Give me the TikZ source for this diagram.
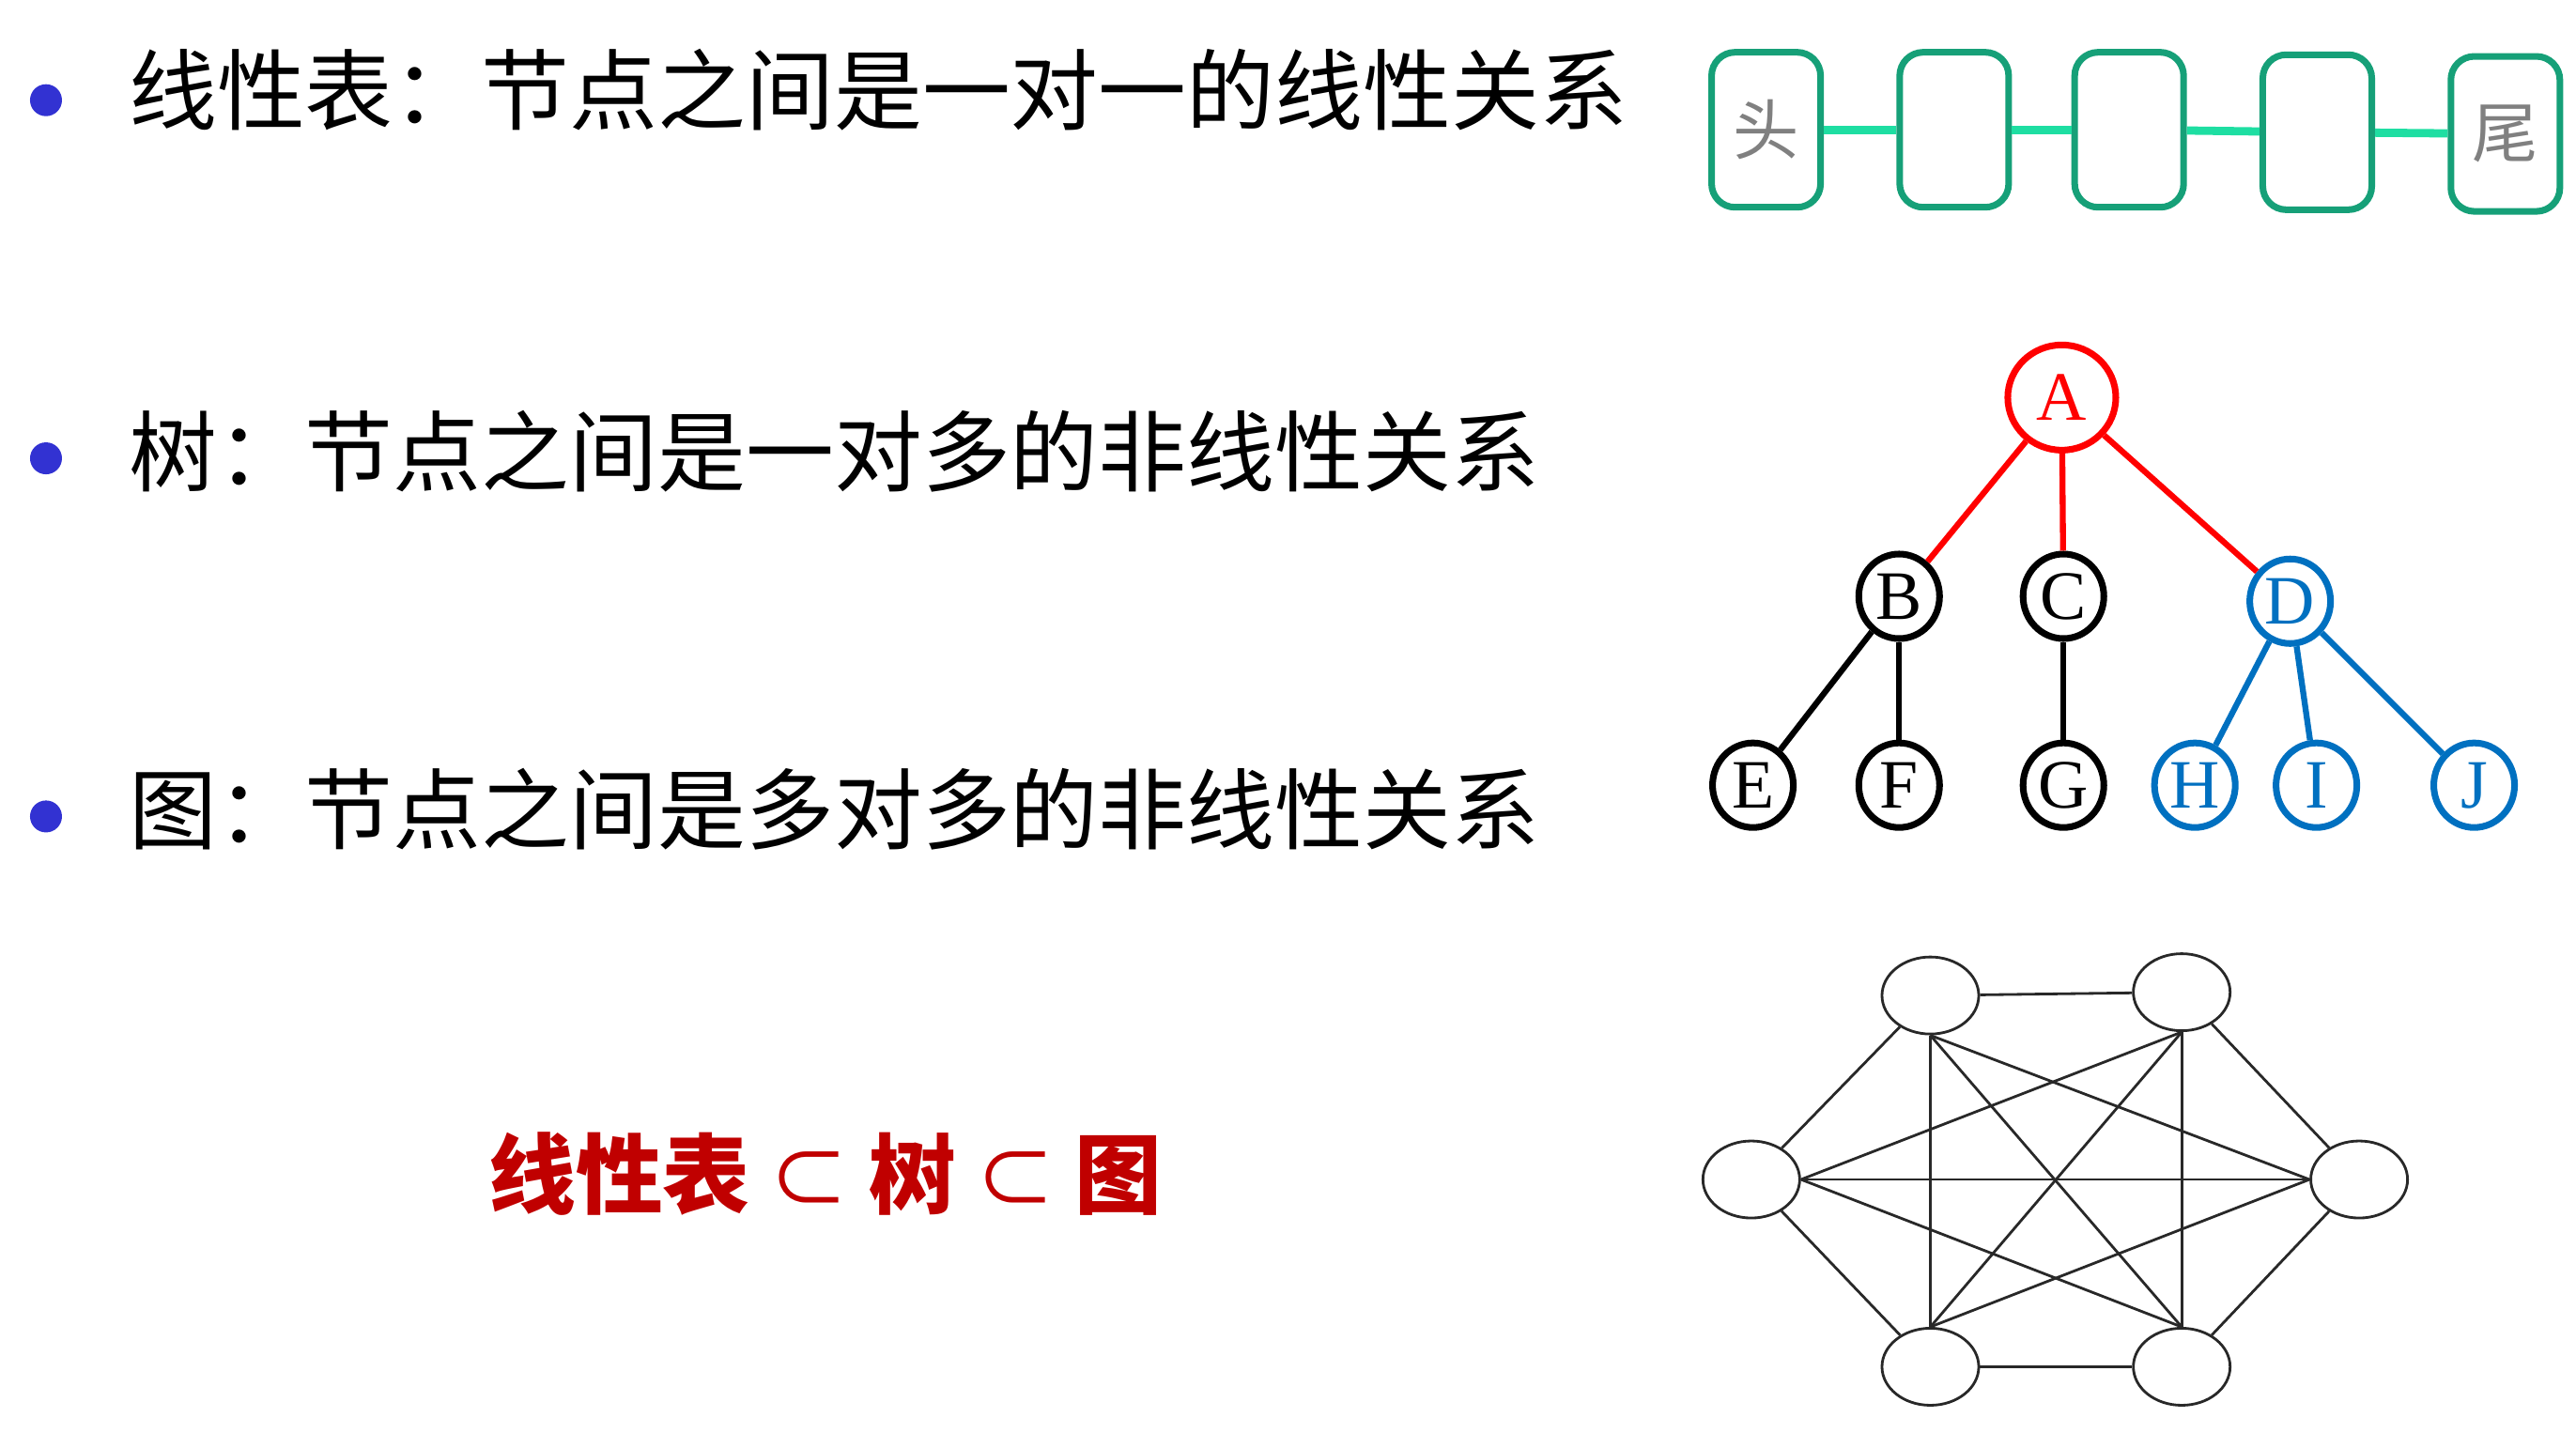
\documentclass[tikz,border=0pt]{standalone}
\usepackage{fontspec}
\setmainfont{Noto Sans CJK SC}
\newfontfamily\serifl{Liberation Serif}
\usetikzlibrary{shapes.geometric}
\definecolor{bulletblue}{RGB}{50,50,210}
\definecolor{boxgreen}{RGB}{22,160,120}
\definecolor{conngreen}{RGB}{30,222,162}
\definecolor{treered}{RGB}{255,0,0}
\definecolor{treeblue}{RGB}{0,112,192}
\definecolor{darkred}{RGB}{192,0,0}
\definecolor{graygraph}{RGB}{40,40,40}
\begin{document}
\begin{tikzpicture}[x=0.01749cm, y=-0.01749cm,
  bulletdot/.style={circle, fill=bulletblue, inner sep=0, minimum size=0.34cm},
  itemtext/.style={anchor=base west, inner sep=0, font=\fontsize{26.7pt}{30pt}\selectfont},
  lbox/.style={draw=boxgreen, line width=2pt, rounded corners=0.25cm, minimum width=1.16cm, minimum height=1.65cm, inner sep=0, text=gray, font=\fontsize{20pt}{22pt}\selectfont},
  lconn/.style={draw=conngreen, line width=2.5pt},
  tnode/.style={ellipse, draw, line width=2pt, inner sep=0, minimum width=0.86cm, minimum height=0.9cm, font=\serifl\fontsize{21pt}{22pt}\selectfont},
  tedge/.style={line width=1.8pt},
  gnode/.style={ellipse, draw=graygraph, line width=0.8pt, inner sep=0, minimum width=1.03cm, minimum height=0.82cm},
  gedge/.style={draw=graygraph, line width=0.8pt}
]
\useasboundingbox (0,0) rectangle (1568,872);

% bullets and text
\node[bulletdot] (b1) at (28,61) {};
\node[bulletdot] (b2) at (28,279) {};
\node[bulletdot] (b3) at (28,497) {};
\node[itemtext] (t1) at (78,75) {线性表：节点之间是一对一的线性关系};
\node[itemtext] (t2) at (78,295) {树：节点之间是一对多的非线性关系};
\node[itemtext] (t3) at (78,513) {图：节点之间是多对多的非线性关系};

\node[anchor=base west, inner sep=0, text=darkred, font=\fontsize{26.4pt}{30pt}\selectfont\bfseries] (rel) at (297,735) {线性表\hspace{6pt}{\mdseries\fontsize{24pt}{28pt}\selectfont ⊂}\hspace{6pt}树\hspace{6pt}{\mdseries\fontsize{24pt}{28pt}\selectfont ⊂}\hspace{6pt}图};

% linked list
\node[lbox] (l1) at (1075,79) {头};
\node[lbox] (l2) at (1189.5,79) {};
\node[lbox] (l3) at (1296,79) {};
\node[lbox] (l4) at (1410.5,80.5) {};
\node[lbox] (l5) at (1525,81.5) {尾};
\draw[lconn] (l1) -- (l2);
\draw[lconn] (l2) -- (l3);
\draw[lconn] (l3) -- (l4);
\draw[lconn] (l4) -- (l5);

% tree
\node[tnode, draw=treered, text=treered, minimum width=1.15cm, minimum height=1.12cm] (A) at (1255,242) {A};
\node[tnode] (B) at (1156,363) {B};
\node[tnode] (C) at (1256,363) {C};
\node[tnode, draw=treeblue, text=treeblue] (D) at (1394,366) {D};
\node[tnode] (E) at (1067,478) {E};
\node[tnode] (F) at (1156,478) {F};
\node[tnode] (G) at (1256,478) {G};
\node[tnode, draw=treeblue, text=treeblue] (H) at (1336,478) {H};
\node[tnode, draw=treeblue, text=treeblue] (I) at (1410,478) {I};
\node[tnode, draw=treeblue, text=treeblue] (J) at (1506,478) {J};
\draw[tedge, treered] (A) -- (B);
\draw[tedge, treered] (A) -- (C);
\draw[tedge, treered] (A) -- (D);
\draw[tedge] (B) -- (E);
\draw[tedge] (B) -- (F);
\draw[tedge] (C) -- (G);
\draw[tedge, treeblue] (D) -- (H);
\draw[tedge, treeblue] (D) -- (I);
\draw[tedge, treeblue] (D) -- (J);

% graph
\node[gnode] (gTL) at (1175,606) {};
\node[gnode] (gTR) at (1328,604) {};
\node[gnode] (gL) at (1066,718) {};
\node[gnode] (gR) at (1436,718) {};
\node[gnode] (gBL) at (1175,832) {};
\node[gnode] (gBR) at (1328,832) {};
\draw[gedge] (gTL) -- (gTR);
\draw[gedge] (gTL) -- (gL);
\draw[gedge] (gTR) -- (gR);
\draw[gedge] (gL) -- (gBL);
\draw[gedge] (gR) -- (gBR);
\draw[gedge] (gBL) -- (gBR);
\draw[gedge] (gL.east) -- (gR.west);
\draw[gedge] (gTL.south) -- (gBL.north);
\draw[gedge] (gTR.south) -- (gBR.north);
\draw[gedge] (gTL.south) -- (gBR.north);
\draw[gedge] (gTR.south) -- (gBL.north);
\draw[gedge] (gTL.south) -- (gR.west);
\draw[gedge] (gTR.south) -- (gL.east);
\draw[gedge] (gL.east) -- (gBR.north);
\draw[gedge] (gR.west) -- (gBL.north);
\end{tikzpicture}
\end{document}
